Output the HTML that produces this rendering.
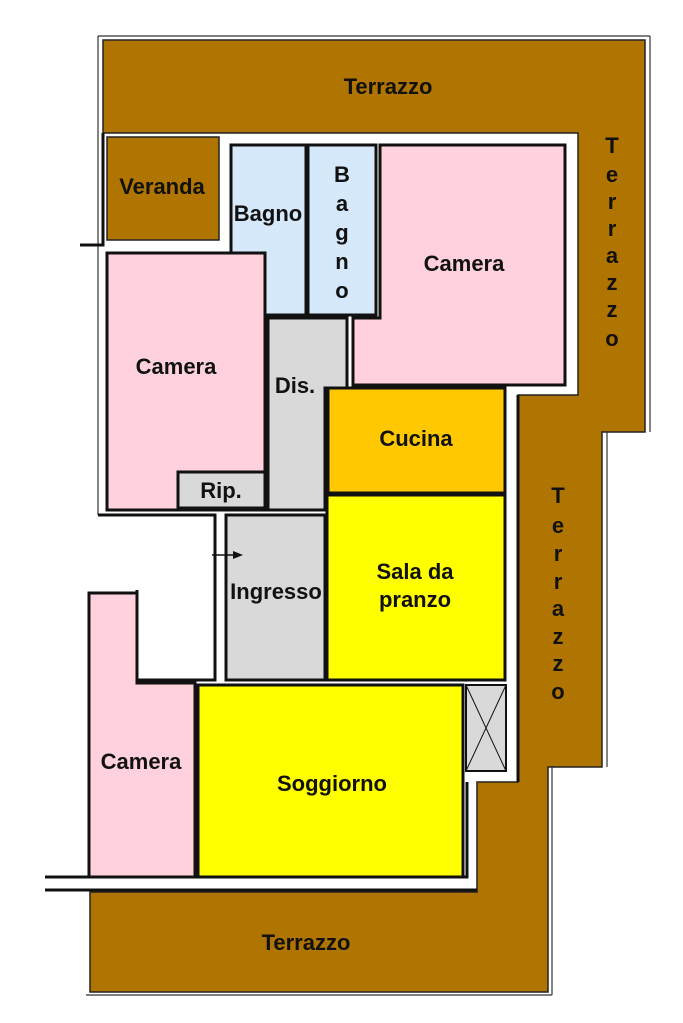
<!DOCTYPE html>
<html><head><meta charset="utf-8"><style>
html,body{margin:0;padding:0;background:#fff;}
svg{display:block}
text{font-family:"Liberation Sans",Arial,sans-serif;font-weight:bold;font-size:22px;fill:#111;}
</style></head><body>
<svg width="683" height="1023" viewBox="0 0 683 1023" xmlns="http://www.w3.org/2000/svg">
<g fill="#b07400" stroke="#222" stroke-width="1.5">
<polygon points="103,40 645,40 645,432 602,432 602,767 548,767 548,992 90,992 90,892 477,892 477,782 518,782 518,395 578,395 578,133 103,133"/>
<rect x="107" y="137" width="112" height="103"/>
</g>
<g stroke="#333" stroke-width="1.2" fill="none">
<line x1="98" y1="36" x2="650" y2="36"/>
<line x1="650" y1="36" x2="650" y2="432"/>
<line x1="98" y1="36" x2="98" y2="515"/>
<line x1="86" y1="995" x2="552" y2="995"/>
<line x1="552" y1="767" x2="552" y2="995"/>
<line x1="607" y1="432" x2="607" y2="767"/>
</g>
<g fill="none" stroke="#111" stroke-width="3">
<polyline points="103,133 103,245 80,245"/>
<polyline points="98,515 215,515 215,680 137,680 137,590"/>
<polyline points="45,877 467,877 467,782"/>
<polyline points="45,890 477,890"/>
<polyline points="518,395 518,782"/>
</g>
<g stroke="#111" stroke-width="3">
<rect x="231" y="145" width="75" height="170" fill="#d6e9fb"/>
<rect x="308" y="145" width="68" height="170" fill="#d6e9fb"/>
<polygon points="380,145 565,145 565,385 353,385 353,318 380,318" fill="#ffd1dc"/>
<rect x="107" y="253" width="158" height="257" fill="#ffd1dc"/>
<rect x="178" y="472" width="87" height="36" fill="#d9d9d9"/>
<polygon points="268,318 347,318 347,388 325,388 325,510 268,510" fill="#d9d9d9"/>
<rect x="328" y="388" width="177" height="105" fill="#ffc800"/>
<rect x="327" y="495" width="178" height="185" fill="#ffff00"/>
<rect x="226" y="515" width="99" height="165" fill="#d9d9d9"/>
<polygon points="89,593 137,593 137,683 195,683 195,877 89,877" fill="#ffd1dc"/>
<rect x="198" y="685" width="265" height="192" fill="#ffff00"/>
<rect x="466" y="685" width="40" height="86" fill="#d9d9d9" stroke-width="2"/>
</g>
<g stroke="#111" stroke-width="1">
<line x1="466" y1="685" x2="506" y2="771"/>
<line x1="506" y1="685" x2="466" y2="771"/>
</g>
<line x1="212" y1="555" x2="240" y2="555" stroke="#111" stroke-width="1.5"/>
<polygon points="243,555 233,551 233,559" fill="#111"/>
<g stroke="#fff" stroke-width="2">
<line x1="110" y1="135" x2="150" y2="135"/>
<line x1="125" y1="245" x2="200" y2="245"/>
<line x1="250" y1="140" x2="295" y2="140"/>
<line x1="450" y1="138" x2="530" y2="138"/>
<line x1="512" y1="410" x2="512" y2="470"/>
<line x1="512" y1="595" x2="512" y2="670"/>
</g>
<text x="388" y="94" text-anchor="middle">Terrazzo</text>
<text x="162" y="194" text-anchor="middle">Veranda</text>
<text x="268" y="221" text-anchor="middle">Bagno</text>
<g text-anchor="middle">
<text x="342" y="182">B</text><text x="342" y="211">a</text><text x="342" y="240">g</text><text x="342" y="269">n</text><text x="342" y="298">o</text>
<text x="612" y="153">T</text><text x="612" y="182">e</text><text x="612" y="209">r</text><text x="612" y="236">r</text><text x="612" y="263">a</text><text x="612" y="290">z</text><text x="612" y="317">z</text><text x="612" y="346">o</text>
<text x="558" y="503">T</text><text x="558" y="533">e</text><text x="558" y="561">r</text><text x="558" y="589">r</text><text x="558" y="616">a</text><text x="558" y="644">z</text><text x="558" y="671">z</text><text x="558" y="699">o</text>
</g>
<text x="464" y="271" text-anchor="middle">Camera</text>
<text x="176" y="374" text-anchor="middle">Camera</text>
<text x="295" y="393" text-anchor="middle">Dis.</text>
<text x="416" y="446" text-anchor="middle">Cucina</text>
<text x="221" y="498" text-anchor="middle">Rip.</text>
<text x="415" y="579" text-anchor="middle">Sala da</text>
<text x="415" y="607" text-anchor="middle">pranzo</text>
<text x="276" y="599" text-anchor="middle">Ingresso</text>
<text x="141" y="769" text-anchor="middle">Camera</text>
<text x="332" y="791" text-anchor="middle">Soggiorno</text>
<text x="306" y="950" text-anchor="middle">Terrazzo</text>
</svg>
</body></html>
